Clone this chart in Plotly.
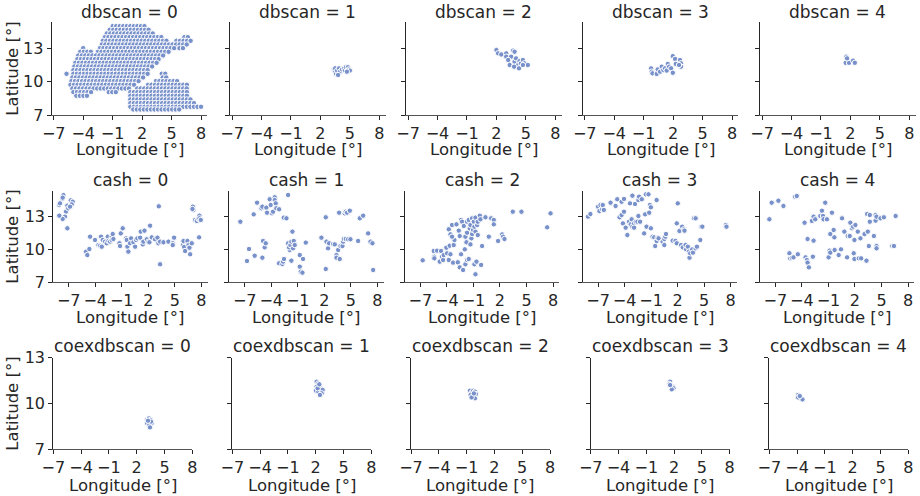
import numpy as np
import plotly.graph_objects as go

# ---------------- tick labels ----------------
LON_TICKS = [-7, -4, -1, 2, 5, 8]
LAT_TICKS = [7, 10, 13]
ROW_NAMES = ["dbscan", "cash", "coexdbscan"]
CLUSTER_IDS = [0, 1, 2, 3, 4]

# ---------------- dbscan = 0 : grid cells (rows of a lattice) ----------------
DB0_GRID_STEP = 0.36
db0_row_lat = [15.0, 14.67, 14.34, 14.01, 13.68, 13.35, 13.02, 12.69, 12.36, 12.03, 11.7, 11.37, 11.04,
               10.71, 10.38, 10.05, 9.72, 9.39, 9.06, 8.73, 8.4, 8.07, 7.74, 7.5]
db0_row_segments = [
    [(-1.0, 2.3)],
    [(-1.3, 2.7)],
    [(-1.6, 3.4)],
    [(-1.8, 4.2), (6.3, 7.0)],
    [(-2.0, 4.8), (5.5, 7.2)],
    [(-2.1, 6.6)],
    [(-4.0, -3.7), (-2.3, 5.3), (5.8, 6.4)],
    [(-4.3, -3.0), (-2.5, 4.8)],
    [(-4.5, 4.3)],
    [(-4.6, 3.8)],
    [(-4.8, 3.5)],
    [(-4.9, 3.2)],
    [(-5.0, 2.9)],
    [(-5.7, -5.7), (-5.0, 2.6), (4.0, 4.5)],
    [(-5.1, 2.2), (4.1, 4.8)],
    [(-5.2, 1.8), (3.4, 5.8)],
    [(-5.3, 1.4), (2.6, 6.6)],
    [(-5.1, 0.9), (1.5, 6.7)],
    [(-5.0, -3.2), (-1.4, -0.4), (0.8, 6.8)],
    [(-4.7, -3.6), (0.8, 6.9)],
    [(0.8, 7.0)],
    [(0.8, 7.6)],
    [(0.8, 8.0)],
    [(1.1, 6.0)],
]

# ---------------- dbscan = 1..4 ----------------
db1_lon = [3.4, 3.5, 3.6, 3.5, 3.7, 3.9, 4.0, 3.8, 4.2, 4.4, 4.5, 4.6, 4.8, 4.9, 5.0, 4.7]
db1_lat = [11.1, 10.9, 10.7, 11.2, 11.0, 11.2, 10.9, 10.6, 11.1, 11.2, 11.0, 11.3, 11.3, 11.1, 11.0, 10.9]
db2_lon = [2.0, 2.17, 2.5, 3.0, 3.0, 3.7, 3.85, 3.5, 3.2, 3.35, 3.85, 4.0, 4.2, 4.35, 4.5, 4.7, 4.85, 4.3, 3.8, 5.2, 4.7]
db2_lat = [12.85, 12.55, 12.45, 12.55, 12.25, 12.8, 12.7, 12.25, 11.95, 11.5, 11.8, 12.1, 11.5, 11.85, 11.65, 11.95, 11.65, 11.2, 11.35, 11.5, 11.5]
db3_lon = [-0.24, -0.18, -0.1, 0.33, 0.43, 0.67, 0.84, 1.0, 1.18, 1.35, 1.46, 1.6, 1.8, 1.97, 1.97, 2.2, 2.27, 2.7, 2.8, 2.8, 2.6]
db3_lat = [11.2, 10.9, 10.75, 10.7, 11.1, 10.9, 11.35, 11.05, 11.2, 11.0, 11.6, 11.35, 11.2, 10.8, 12.3, 12.05, 11.6, 11.95, 11.65, 11.35, 11.5]
db4_lon = [1.59, 1.66, 1.52, 1.86, 2.27, 2.45, 1.66]
db4_lat = [12.25, 11.95, 11.7, 11.7, 11.9, 11.7, 12.1]

# ---------------- cash = 0..4 ----------------
cash0_lon = [-8.06, -7.91, -7.75, -7.6, -7.68, -7.98, -7.3, -7.42, -7.68, -8.06, -7.15, -7.04, -6.77, -6.55, -6.66, -6.85, -7.15,
             -5.04, -4.89, -4.66, -4.58, -4.02, -3.64, -3.45, -3.26, -3.34, -3.15, -2.89, -2.7, -2.58, -2.51, -2.32, -2.13, -2.02,
             -2.13, -1.94, -1.26, -1.19, -1.11, -0.89, -0.51, -0.43, -0.36, -0.25, -0.06, 0.06, 0.32, 0.51, 0.62, 0.77, 1.08,
             1.15, 1.38, 1.45, 1.57, 1.83, 2.02, 2.13, 2.21, 2.4, 2.77, 3.04, 3.15, 3.19, 3.34, 3.34, 3.72, 4.28, 4.77, 4.92, 4.77,
             5.91, 5.98, 6.06, 6.17, 6.43, 6.55, 6.66, 6.74, 6.92, 7.04, 7.11, 7.0, 7.3, 7.49, 7.68, 7.79, 7.79, 7.94, 7.75]
cash0_lat = [14.0, 14.3, 14.55, 14.9, 14.67, 14.15, 13.4, 12.94, 12.73, 13.03, 13.94, 13.7, 14.42, 14.3, 14.06, 13.85, 11.88,
             9.76, 9.45, 10.0, 11.12, 10.82, 10.36, 10.3, 10.21, 11.12, 10.82, 10.67, 10.52, 11.12, 10.73, 10.67, 11.12, 11.36,
             10.82, 10.91, 10.52, 10.27, 11.42, 11.88, 10.97, 10.82, 10.21, 9.76, 10.52, 10.97, 10.61, 10.21, 10.82, 10.97, 11.03,
             11.58, 10.42, 10.67, 11.67, 10.88, 10.67, 10.61, 12.12, 11.06, 10.88, 11.03, 10.52, 13.88, 10.67, 8.61, 10.61, 10.67, 10.52, 11.03, 10.36,
             10.36, 10.73, 10.18, 9.82, 10.73, 10.36, 10.12, 9.52, 10.52, 13.85, 13.55, 13.64, 12.64, 12.55, 12.73, 13.03, 12.79, 12.64, 11.06]

cash1_lon = [-7.49, -6.74, -6.51, -5.98, -5.87, -5.6, -5.11, -5.0, -5.0, -4.92, -4.74, -4.62, -4.55, -4.47, -4.17, -4.06, -3.91,
             -3.79, -3.6, -3.6, -3.49, -3.42, -3.11, -3.11, -2.74, -2.66, -2.55, -2.58, -2.28, -2.09, -1.91, -2.09, -1.98, -1.83,
             -1.72, -1.6, -1.72, -1.45, -1.53, -1.34, -0.77, -0.77, -0.66, -0.47, -0.4, -0.09, 1.68, 2.17, 2.17, 2.25, 2.43, 2.55,
             3.0, 3.19, 3.38, 3.38, 3.57, 3.68, 3.75, 3.83, 4.06, 4.13, 4.21, 4.32, 4.43, 4.43, 4.58, 4.7, 4.89, 4.96, 5.83, 6.02,
             6.4, 6.96, 7.23, 7.45, 7.53]
cash1_lat = [12.48, 8.91, 10.0, 13.15, 9.39, 14.21, 13.7, 13.85, 9.21, 10.73, 10.15, 10.52, 13.76, 13.3, 14.52, 14.0, 13.24,
             13.39, 14.7, 14.45, 14.15, 13.7, 13.61, 8.7, 8.64, 8.85, 9.09, 12.85, 12.79, 14.91, 9.91, 10.52, 10.15, 10.36,
             10.67, 11.58, 8.94, 10.73, 10.06, 10.36, 9.45, 8.39, 7.94, 7.85, 9.09, 10.58, 11.03, 12.88, 8.18, 10.67, 10.06, 10.52,
             10.45, 10.42, 9.45, 9.21, 9.91, 13.3, 9.09, 10.27, 10.27, 10.67, 10.91, 13.24, 13.39, 10.91, 13.3, 10.88, 13.48, 10.88, 10.73, 12.79,
             13.03, 11.42, 10.67, 10.52, 8.09]

cash2_lon = [-6.74, -5.49, -5.42, -5.42, -5.11, -4.81, -4.66, -4.55, -4.43, -4.36, -4.06, -3.98, -3.79, -3.68, -3.6, -3.42, -3.3,
             -3.23, -3.15, -3.79, -3.6, -3.42, -2.92, -2.77, -2.66, -2.55, -2.55, -2.4, -2.4, -2.28, -2.17, -2.09, -1.98, -1.91,
             -1.91, -1.79, -1.72, -1.72, -1.72, -1.53, -1.53, -1.42, -1.34, -1.34, -1.23, -1.15, -1.15, -1.04, -0.96, -0.89, -0.77,
             -0.77, -0.77, -0.66, -0.89, -0.58, -0.51, -0.51, -0.28, -0.21, -0.13, -0.02, 0.36, 0.74, 1.0, 1.3, 1.3, 1.79, 2.25,
             2.36, 2.51, 3.45, 4.43, 7.34, 7.72]
cash2_lat = [8.97, 9.82, 9.3, 9.15, 9.85, 8.85, 9.82, 9.3, 9.0, 9.45, 10.12, 9.61, 9.0, 10.3, 9.52, 12.18, 8.76,
             10.36, 10.82, 11.79, 11.33, 11.12, 12.24, 8.79, 11.67, 11.18, 8.33, 12.64, 9.52, 12.48, 8.09, 12.09, 9.97, 11.12,
             8.61, 10.61, 12.48, 9.0, 11.48, 12.64, 9.09, 11.88, 12.18, 10.42, 10.97, 12.79, 11.36, 11.73, 12.48, 8.61, 12.85,
             11.58, 7.7, 8.85, 12.03, 12.18, 12.48, 11.27, 13.03, 12.7, 8.55, 10.27, 12.88, 11.12, 12.79, 12.64, 12.24, 10.73, 11.33,
             11.12, 10.91, 13.39, 13.39, 11.97, 13.24]

cash3_lon = [-8.14, -7.87, -7.0, -6.85, -6.73, -6.54, -6.47, -6.35, -5.59, -5.02, -4.83, -4.57, -4.34, -4.34, -4.19, -4.07, -4.07,
             -3.88, -3.69, -3.5, -3.39, -3.31, -3.2, -3.12, -3.12, -2.93, -2.93, -2.82, -2.74, -2.55, -2.44, -2.44, -2.36, -2.25,
             -2.06, -1.79, -1.68, -1.6, -1.52, -1.3, -1.22, -1.14, -1.03, -1.03, -0.84, -0.65, -0.54, -0.38, -0.38, -0.27, -0.16,
             0.3, 0.49, 0.6, 0.68, 0.49, 1.44, 1.75, 1.9, 2.01, 1.9, 2.2, 2.39, 2.51, 2.7, 2.58, 2.77, 2.89, 2.96, 3.15, 3.27, 3.34,
             3.42, 3.65, 3.73, 3.84, 4.03, 4.03, 4.18, 4.56, 4.67, 4.79, 7.45, 7.52]
cash3_lat = [12.94, 13.18, 13.85, 13.45, 14.0, 13.61, 14.0, 13.55, 14.21, 13.91, 14.52, 12.88, 13.09, 14.3, 12.33, 13.39, 14.55,
             11.94, 11.27, 12.48, 14.15, 12.24, 12.7, 14.85, 12.03, 12.33, 11.94, 14.09, 12.48, 12.48, 14.45, 13.0, 14.76, 12.48,
             14.52, 11.42, 13.15, 14.97, 12.03, 14.97, 13.3, 14.0, 13.79, 11.88, 11.12, 11.06, 10.27, 14.45, 10.73, 11.03, 10.97,
             10.67, 10.91, 11.12, 11.36, 10.36, 10.76, 10.73, 10.52, 14.15, 12.33, 11.64, 10.36, 12.03, 11.79, 10.15, 11.67, 10.36, 9.97, 10.21, 9.76, 9.21,
             9.61, 9.97, 9.67, 12.79, 12.79, 10.06, 10.21, 10.82, 12.03, 12.03, 12.18, 12.03]

cash4_lon = [-7.68, -7.42, -6.66, -6.09, -5.41, -5.33, -5.14, -4.95, -4.77, -4.58, -4.46, -3.7, -3.59, -3.44, -3.36, -3.36, -3.21,
             -2.87, -2.76, -2.68, -2.68, -2.49, -1.92, -1.73, -1.62, -1.55, -1.36, -1.17, -0.98, -0.86, -0.79, -0.79, -0.6, -0.41,
             -0.33, -0.3, 0.16, 0.42, 0.54, 0.8, 1.11, 1.18, 1.41, 1.48, 1.67, 1.79, 1.86, 1.94, 1.94, 2.05, 2.32, 2.43, 2.62, 2.7,
             3.08, 3.3, 3.38, 3.45, 3.57, 3.68, 3.68, 4.14, 4.33, 4.33, 4.44, 4.44, 4.44, 4.89, 5.27, 6.22, 6.41, 6.6]
cash4_lat = [12.7, 14.21, 14.39, 13.91, 9.61, 9.15, 9.2, 9.24, 14.76, 14.82, 9.52, 12.39, 9.24, 9.0, 10.91, 8.76, 8.33,
             12.55, 9.3, 10.76, 12.94, 12.7, 13.0, 13.48, 13.0, 12.7, 14.21, 12.7, 9.24, 9.85, 9.67, 11.36, 13.3, 11.73,
             11.06, 9.91, 9.45, 9.97, 12.79, 11.58, 9.24, 11.18, 11.18, 12.39, 11.88, 12.03, 9.61, 9.09, 10.82, 12.18, 11.58, 9.15, 10.97, 9.15,
             11.36, 8.94, 13.18, 11.58, 10.27, 13.09, 12.48, 11.18, 12.58, 13.09, 10.27, 10.06, 12.94, 12.79, 12.88, 10.27, 10.27, 13.0]

# ---------------- coexdbscan = 0..4 ----------------
coex0_lon = [3.14, 3.32, 3.5, 3.25, 3.43, 3.61, 3.14, 3.36, 3.43, 3.54, 3.22]
coex0_lat = [8.95, 9.01, 8.91, 8.8, 8.73, 8.69, 8.69, 8.58, 8.42, 8.8, 8.86]
coex1_lon = [2.1, 2.28, 2.39, 2.1, 2.03, 2.28, 2.53, 2.75, 2.64, 2.46, 2.21, 2.39]
coex1_lat = [11.42, 11.31, 11.09, 11.09, 10.83, 10.77, 10.99, 10.88, 10.66, 10.55, 10.99, 11.25]
coex2_lon = [-0.64, -0.46, -0.28, -0.1, 0.0, -0.57, -0.28, -0.1, -0.46, -0.21]
coex2_lat = [10.83, 10.7, 10.83, 10.77, 10.61, 10.55, 10.48, 10.33, 10.39, 10.65]
coex3_lon = [1.57, 1.5, 1.64, 1.86, 1.93, 1.75, 1.57]
coex3_lat = [11.42, 11.27, 11.14, 11.09, 10.99, 10.92, 11.2]
coex4_lon = [-3.89, -3.78, -3.64, -3.42, -3.89, -3.71]
coex4_lat = [10.55, 10.44, 10.33, 10.26, 10.39, 10.48]


def expand_grid(row_lat, row_segments, step):
    lons, lats = [], []
    for lat, segs in zip(row_lat, row_segments):
        for lo, hi in segs:
            for v in np.arange(lo, hi + 1e-6, step):
                lons.append(float(v))
                lats.append(lat)
    return lons, lats


db0_lon, db0_lat = expand_grid(db0_row_lat, db0_row_segments, DB0_GRID_STEP)

DATA = [
    [(db0_lon, db0_lat), (db1_lon, db1_lat), (db2_lon, db2_lat), (db3_lon, db3_lat), (db4_lon, db4_lat)],
    [(cash0_lon, cash0_lat), (cash1_lon, cash1_lat), (cash2_lon, cash2_lat), (cash3_lon, cash3_lat), (cash4_lon, cash4_lat)],
    [(coex0_lon, coex0_lat), (coex1_lon, coex1_lat), (coex2_lon, coex2_lat), (coex3_lon, coex3_lat), (coex4_lon, coex4_lat)],
]

# ---------------- layout geometry (pixels) ----------------
W, H = 920, 496
ROW_LEFTS = [[51.7, 230, 406, 582.7, 760], [53.3, 229.3, 405, 582.7, 760], [53.3, 232.3, 411, 590.7, 769.3]]
ROW_WIDTH = [155.6, 154.2, 139.0]
ROW_TOP = [21.7, 190.7, 357.7]
ROW_BOTTOM = [115.0, 282.0, 449.0]
ROW_XRANGE = [[-7.21, 8.64], [-8.74, 8.70], [-7.0, 8.0]]
ROW_YRANGE = [[7.0, 15.4], [7.0, 15.3], [7.0, 13.0]]
TITLE_Y = [11.7, 180.0, 346.0]
XLABEL_Y = [149.0, 317.0, 485.0]
YLABEL_X = 12.3

TXT = "#262626"
FONT = "DejaVu Sans"
FS = 16.5
FS_TICK = 16

fig = go.Figure()
annotations = []
layout_axes = {}

for r in range(3):
    for c in range(5):
        k = r * 5 + c + 1
        xs = "" if k == 1 else str(k)
        lon, lat = DATA[r][c]
        fig.add_trace(go.Scatter(
            x=lon, y=lat, mode="markers", xaxis="x" + xs, yaxis="y" + xs,
            marker=dict(size=5.4, color="#7891cb", line=dict(color="white", width=1.0)),
            showlegend=False, hoverinfo="x+y"))
        left = ROW_LEFTS[r][c]
        right = left + ROW_WIDTH[r]
        x_dom = [left / W, right / W]
        y_dom = [1 - ROW_BOTTOM[r] / H, 1 - ROW_TOP[r] / H]
        layout_axes["xaxis" + xs] = dict(
            domain=x_dom, anchor="y" + xs, range=ROW_XRANGE[r], tickmode="array", tickvals=LON_TICKS,
            ticks="outside", ticklen=4, tickwidth=1.2, tickcolor=TXT, showline=True, linecolor="#555555",
            linewidth=1.3, showgrid=False, zeroline=False, tickfont=dict(family=FONT, size=FS_TICK, color=TXT),
            automargin=False, fixedrange=True)
        layout_axes["yaxis" + xs] = dict(
            domain=y_dom, anchor="x" + xs, range=ROW_YRANGE[r], tickmode="array", tickvals=LAT_TICKS,
            ticks="outside", ticklen=4, tickwidth=1.2, tickcolor=TXT, showline=True, linecolor=TXT,
            linewidth=1.2, showgrid=False, zeroline=False, showticklabels=(c == 0),
            tickfont=dict(family=FONT, size=FS_TICK, color=TXT),
            automargin=False, fixedrange=True)
        # subplot title
        annotations.append(dict(
            text=f"{ROW_NAMES[r]} = {CLUSTER_IDS[c]}", xref="paper", yref="paper",
            x=(left + right) / 2 / W, y=1 - TITLE_Y[r] / H, xanchor="center", yanchor="middle",
            showarrow=False, borderpad=0, font=dict(family=FONT, size=FS + 0.5, color=TXT)))
        # x axis label
        annotations.append(dict(
            text="Longitude [°]", xref="paper", yref="paper",
            x=(left + right) / 2 / W, y=1 - XLABEL_Y[r] / H, xanchor="center", yanchor="middle",
            showarrow=False, borderpad=0, font=dict(family=FONT, size=FS, color=TXT)))
        if c == 0:
            annotations.append(dict(
                text="Latitude [°]", xref="paper", yref="paper", textangle=-90,
                x=YLABEL_X / W, y=1 - (ROW_TOP[r] + ROW_BOTTOM[r]) / 2 / H, xanchor="center", yanchor="middle",
                showarrow=False, borderpad=0, font=dict(family=FONT, size=FS, color=TXT)))

fig.update_layout(
    width=W, height=H, margin=dict(l=0, r=0, t=0, b=0), paper_bgcolor="white", plot_bgcolor="white",
    annotations=annotations, **layout_axes)

fig.write_html("out.html", include_plotlyjs=True, config={"displayModeBar": False})
